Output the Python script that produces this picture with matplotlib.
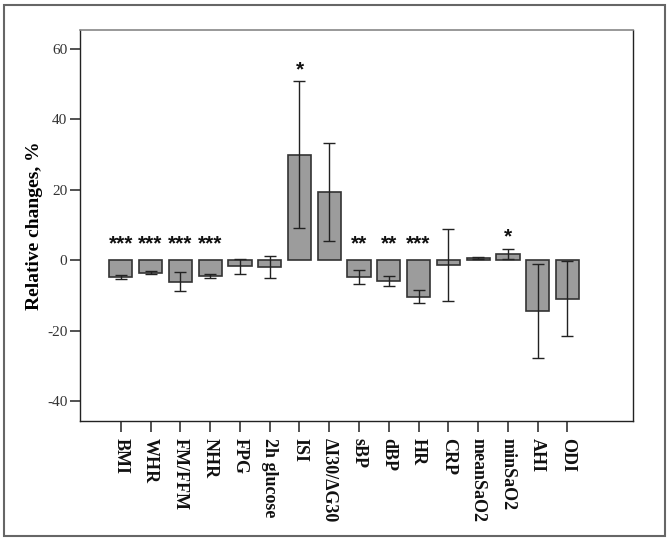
import matplotlib
matplotlib.use("Agg")
import matplotlib.pyplot as plt
from matplotlib.patches import Rectangle

categories = ["BMI", "WHR", "FM/FFM", "NHR", "FPG", "2h glucose", "ISI",
              "\u0394I30/\u0394G30", "sBP", "dBP", "HR", "CRP", "meanSaO2",
              "minSaO2", "AHI", "ODI"]
values = [-4.8, -3.6, -6.2, -4.5, -1.7, -1.9, 30.0, 19.4, -4.8, -5.9,
          -10.4, -1.4, 0.5, 1.7, -14.4, -10.9]
errors = [0.5, 0.4, 2.7, 0.7, 2.1, 3.1, 20.8, 14.0, 2.1, 1.3,
          1.8, 10.3, 0.3, 1.5, 13.4, 10.7]
stars = ["***", "***", "***", "***", "", "", "*", "", "**", "**",
         "***", "", "", "*", "", ""]

plt.rcParams['font.family'] = ['Liberation Serif', 'DejaVu Serif']

fig = plt.figure(figsize=(6.7, 5.42), dpi=100)
ax = fig.add_axes([80/670, 1-421/542, (633-80)/670, (421-30)/542])

x = list(range(len(categories)))
ax.bar(x, values, width=0.78, color='#9c9c9c', edgecolor='#333333', linewidth=1.2,
       yerr=errors, error_kw=dict(ecolor='#222222', elinewidth=1.0, capsize=4, capthick=1.0),
       zorder=2)

for i, s in enumerate(stars):
    if not s:
        continue
    if values[i] >= 0:
        y = values[i] + errors[i] + 0.6
    else:
        y = 1.8
    ax.text(i, y, s, ha='center', va='bottom', fontsize=15, color='#111111',
            family='Liberation Sans', fontweight='bold')

ax.set_xlim(-1.37, 17.2)
ax.set_ylim(-45.7, 65.4)
ax.set_yticks([-40, -20, 0, 20, 40, 60])
ax.set_yticklabels(["-40", "-20", "0", "20", "40", "60"], fontsize=11, color='#333333')
ax.set_xticks(x)
ax.set_xticklabels(categories, rotation=-90, fontsize=13, fontweight='bold',
                   va='top', ha='center', color='#111111')
ax.tick_params(axis='x', length=8, width=1.2, color='#333333', pad=4)
ax.tick_params(axis='y', length=7, width=1.2, color='#333333', pad=2)
ax.set_ylabel("Relative changes, %", fontsize=14, fontweight='bold', labelpad=3)

for side in ['left', 'bottom', 'right']:
    ax.spines[side].set_color('#222222')
    ax.spines[side].set_linewidth(1.0)
ax.spines['top'].set_color('#888888')
ax.spines['top'].set_linewidth(1.2)

fig.patches.append(Rectangle((4/670, 1-536/542), (665-4)/670, (536-5)/542,
                             transform=fig.transFigure, fill=False,
                             edgecolor='#666666', linewidth=1.5))

fig.savefig("out.png", dpi=100)
